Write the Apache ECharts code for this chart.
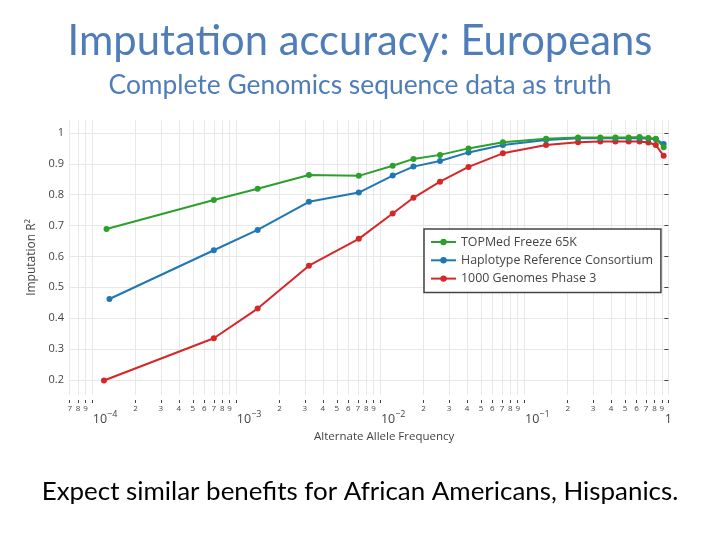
<!DOCTYPE html>
<html><head><meta charset="utf-8">
<script src="https://cdn.jsdelivr.net/npm/echarts@6/dist/echarts.min.js"></script>
<style>html,body{margin:0;padding:0;background:#fff}#c{width:720px;height:540px}</style>
</head><body><div id="c"></div>
<script>
// ---- data ----
const seriesNames = ['TOPMed Freeze 65K', 'Haplotype Reference Consortium', '1000 Genomes Phase 3'];
const freqTopmed = [1.26e-4, 7.0e-4, 1.41e-3, 3.2e-3, 7.1e-3, 0.0122, 0.017, 0.026, 0.041, 0.071, 0.1416, 0.236, 0.337, 0.429, 0.53, 0.631, 0.726, 0.818, 0.927];
const freqHrc    = [1.32e-4, 7.0e-4, 1.41e-3, 3.2e-3, 7.1e-3, 0.0122, 0.017, 0.026, 0.041, 0.071, 0.1416, 0.236, 0.337, 0.429, 0.53, 0.631, 0.726, 0.818, 0.927];
const freq1kg    = [1.21e-4, 7.0e-4, 1.41e-3, 3.2e-3, 7.1e-3, 0.0122, 0.017, 0.026, 0.041, 0.071, 0.1416, 0.236, 0.337, 0.429, 0.53, 0.631, 0.726, 0.818, 0.927];
const r2Topmed = [0.689, 0.783, 0.819, 0.864, 0.861, 0.894, 0.916, 0.929, 0.950, 0.970, 0.981, 0.985, 0.985, 0.985, 0.985, 0.987, 0.984, 0.981, 0.954];
const r2Hrc    = [0.462, 0.620, 0.686, 0.777, 0.807, 0.862, 0.891, 0.909, 0.937, 0.961, 0.977, 0.983, 0.983, 0.983, 0.983, 0.983, 0.982, 0.980, 0.964];
const r21kg    = [0.198, 0.335, 0.431, 0.570, 0.657, 0.739, 0.790, 0.842, 0.890, 0.934, 0.961, 0.970, 0.972, 0.972, 0.972, 0.972, 0.969, 0.961, 0.926];
const yTicks = [0.2, 0.3, 0.4, 0.5, 0.6, 0.7, 0.8, 0.9, 1];
const xDigits = [2, 3, 4, 5, 6, 7, 8, 9];
const xDecadeExps = [-5, -4, -3, -2, -1];
const xPowerExps = [-4, -3, -2, -1, 0];
const xPowerLabels = [['10', '−4'], ['10', '−3'], ['10', '−2'], ['10', '−1'], ['1', '']];
const titleText = 'Imputation accuracy: Europeans';
const subtitleText = 'Complete Genomics sequence data as truth';
const footerText = 'Expect similar benefits for African Americans, Hispanics.';
const xName = 'Alternate Allele Frequency';
const yName = 'Imputation R²';

// ---- layout helpers ----
const X_MIN = -4.16, X_MAX = 0.007;
const Y_MIN = 0.151, Y_MAX = 1.042;
const AX = '#444';
const GRID = '#e8e8e8';
const colors = ['#2ca02c', '#1f77b4', '#d62728'];
const TITLE_COLOR = '#4f7dba';

function fitSize(text, family, weight, target) {
  const ctx = document.createElement('canvas').getContext('2d');
  ctx.font = weight + ' 100px ' + family;
  return 100 * target / ctx.measureText(text).width;
}
const FAM = 'Lato';
const titleSize = fitSize(titleText, FAM, 'normal', 585);
const subSize = fitSize(subtitleText, FAM, 'normal', 503);
const footSize = fitSize(footerText, FAM, 'normal', 637);

const lg = Math.log10;
const minorPos = [];
const digitLabelMap = {};
xDecadeExps.forEach(e => xDigits.forEach(d => {
  const p = lg(d) + e;
  if (p >= X_MIN && p <= X_MAX) { minorPos.push(p); digitLabelMap[p.toFixed(6)] = String(d); }
}));
const powerLabelMap = {};
const powerPos = xPowerExps.map((e, i) => { powerLabelMap[e.toFixed(6)] = xPowerLabels[i]; return e; });
const allTicks = minorPos.concat(powerPos).sort((a, b) => a - b);

const toXY = (f, v) => f.map((x, i) => [lg(x), v[i]]);
const seriesData = [toXY(freqTopmed, r2Topmed), toXY(freqHrc, r2Hrc), toXY(freq1kg, r21kg)];

const chart = echarts.init(document.getElementById('c'), null, { renderer: 'canvas' });
const baseAxis = {
  type: 'value', min: X_MIN, max: X_MAX, position: 'bottom', offset: 5,
};
chart.setOption({
  animation: false,
  backgroundColor: '#fff',
  textStyle: { fontFamily: 'Open Sans' },
  title: [
    { text: titleText, left: 'center', top: 16, textStyle: { fontFamily: FAM, fontWeight: 'normal', fontSize: titleSize, color: TITLE_COLOR } },
    { text: subtitleText, left: 'center', top: 67, textStyle: { fontFamily: FAM, fontWeight: 'normal', fontSize: subSize, color: TITLE_COLOR } },
    { text: footerText, left: 'center', top: 474, textStyle: { fontFamily: FAM, fontWeight: 'normal', fontSize: footSize, color: '#000' } }
  ],
  grid: { left: 69, right: 720 - 669.4, top: 120, bottom: 145, containLabel: false },
  legend: {
    orient: 'vertical', left: 424, top: 229,
    data: seriesNames,
    itemWidth: 25, itemHeight: 8, itemGap: 6.3,
    padding: [7, 8, 8, 6],
    borderColor: AX, borderWidth: 1.5, backgroundColor: '#fff',
    textStyle: { fontFamily: 'Open Sans', fontSize: 12.4, color: AX }
  },
  xAxis: [
    Object.assign({}, baseAxis, {
      name: xName, nameLocation: 'middle', nameGap: 31,
      nameTextStyle: { fontFamily: 'Open Sans', fontSize: 11.5, color: AX, padding: [0, 0, 0, 30] },
      axisLine: { show: false },
      axisTick: { show: true, length: 3, lineStyle: { color: AX, width: 1 }, customValues: allTicks },
      splitLine: { show: true, lineStyle: { color: GRID, width: 1 } },
      axisLabel: {
        customValues: minorPos, margin: 5, fontSize: 8, color: AX,
        formatter: v => digitLabelMap[v.toFixed(6)] || ''
      }
    }),
    Object.assign({}, baseAxis, {
      axisLine: { show: false }, axisTick: { show: false }, splitLine: { show: false },
      axisLabel: {
        customValues: powerPos, margin: 10, color: AX,
        formatter: v => {
          const l = powerLabelMap[v.toFixed(6)];
          if (!l) return '';
          return l[1] ? '{g|}{b|' + l[0] + '}{s|' + l[1] + '}' : '{b|' + l[0] + '}';
        },
        rich: {
          g: { width: 26, fontSize: 12 },
          b: { fontSize: 12.5, color: AX, lineHeight: 18, fontFamily: 'Open Sans' },
          s: { fontSize: 9, color: AX, verticalAlign: 'top', lineHeight: 10, fontFamily: 'Open Sans' }
        }
      }
    })
  ],
  yAxis: {
    type: 'value', min: Y_MIN, max: Y_MAX,
    name: yName, nameLocation: 'middle', nameGap: 29,
    nameTextStyle: { fontFamily: 'Open Sans', fontSize: 12, color: AX },
    axisLine: { show: false },
    axisTick: { show: true, length: 4, lineStyle: { color: AX }, customValues: yTicks },
    splitLine: { show: true, lineStyle: { color: GRID, width: 1 } },
    axisLabel: { customValues: yTicks, margin: 5, fontSize: 11, color: AX }
  },
  series: [2, 1, 0].map(i => ({
    name: seriesNames[i], type: 'line', xAxisIndex: 0,
    data: seriesData[i], symbol: 'circle', symbolSize: 6, showSymbol: true,
    color: colors[i], lineStyle: { width: 2, color: colors[i] },
    itemStyle: { color: colors[i] }, emphasis: { disabled: true }, z: 2 + (2 - i)
  }))
});
</script></body></html>
